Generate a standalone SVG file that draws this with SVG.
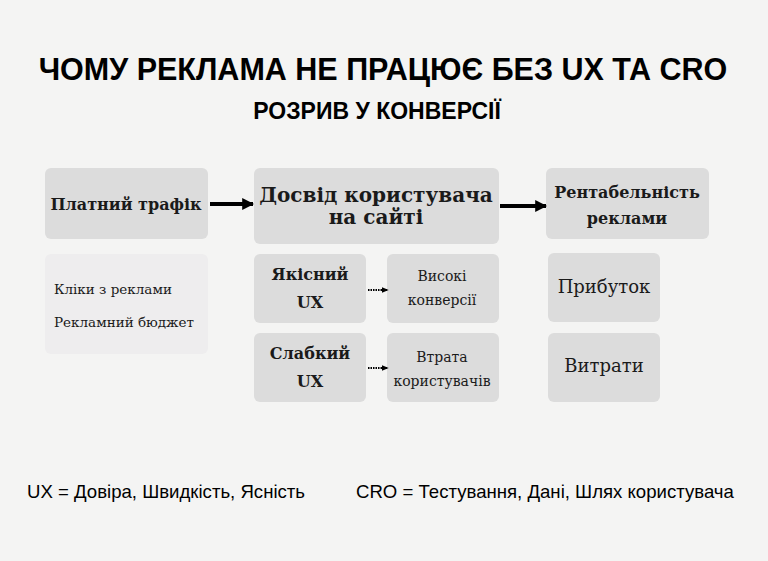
<svg xmlns="http://www.w3.org/2000/svg" width="768" height="561" viewBox="0 0 768 561">
<style>
.b{fill:#dcdcdc}
.s{font-family:"DejaVu Serif",serif;fill:#1a1a1a;text-anchor:middle}
.l{font-family:"DejaVu Serif",serif;fill:#1a1a1a;text-anchor:start}
.bd{font-weight:bold}
.h{font-family:"Liberation Sans",Arial,sans-serif;font-weight:bold;text-anchor:middle;fill:#000}
.f{font-family:"Liberation Sans",Arial,sans-serif;font-size:18.6px;fill:#000}
</style>
<defs>
<marker id="a" viewBox="0 0 10 10" refX="9" refY="5" markerWidth="3" markerHeight="3" orient="auto"><path d="M0,0L10,5L0,10z" fill="#000"/></marker>
<marker id="d" viewBox="0 0 10 10" refX="9" refY="5" markerWidth="3.5" markerHeight="3.5" orient="auto"><path d="M0,1L10,5L0,9z" fill="#000"/></marker>
</defs>
<rect width="768" height="561" fill="#f4f4f3"/>
<text class="h" x="383" y="80" font-size="30.5">ЧОМУ РЕКЛАМА НЕ ПРАЦЮЄ БЕЗ UX ТА CRO</text>
<text class="h" x="377" y="119" font-size="23">РОЗРИВ У КОНВЕРСІЇ</text>
<g id="traffic"><rect class="b" x="45" y="168" width="163" height="71" rx="6"/><text class="s bd" x="126" y="210" font-size="16">Платний трафік</text></g>
<g id="clicks"><rect x="45" y="254" width="163" height="100" rx="6" fill="#eeedee"/><text class="l" x="54" y="294" font-size="13.5">Кліки з реклами</text><text class="l" x="54" y="327" font-size="13.5">Рекламний бюджет</text></g>
<g id="experience"><rect class="b" x="254" y="168" width="245" height="76" rx="6"/><text class="s bd" x="376" y="202" font-size="20">Досвід користувача</text><text class="s bd" x="376" y="224" font-size="20">на сайті</text></g>
<g id="roi"><rect class="b" x="546" y="168" width="163" height="71" rx="6"/><text class="s bd" x="627" y="198" font-size="16">Рентабельність</text><text class="s bd" x="627" y="224" font-size="16">реклами</text></g>
<g id="good"><rect class="b" x="254" y="254" width="112" height="69" rx="6"/><text class="s bd" x="310" y="280" font-size="16">Якісний</text><text class="s bd" x="310" y="308" font-size="16">UX</text></g>
<g id="high"><rect class="b" x="387" y="254" width="112" height="69" rx="6"/><text class="s" x="442" y="281" font-size="14">Високі</text><text class="s" x="442" y="305" font-size="14">конверсії</text></g>
<g id="weak"><rect class="b" x="254" y="333" width="112" height="69" rx="6"/><text class="s bd" x="310" y="359" font-size="16">Слабкий</text><text class="s bd" x="310" y="387" font-size="16">UX</text></g>
<g id="loss"><rect class="b" x="387" y="333" width="112" height="69" rx="6"/><text class="s" x="442" y="362" font-size="14">Втрата</text><text class="s" x="442" y="386" font-size="14">користувачів</text></g>
<g id="profit"><rect class="b" x="548" y="253" width="112" height="69" rx="6"/><text class="s" x="604" y="293" font-size="18">Прибуток</text></g>
<g id="costs"><rect class="b" x="548" y="333" width="112" height="69" rx="6"/><text class="s" x="604" y="372" font-size="18">Витрати</text></g>
<g id="connectors" stroke="#000" fill="none">
<line x1="210" y1="204" x2="253" y2="204" stroke-width="4" marker-end="url(#a)"/>
<line x1="500" y1="206" x2="546" y2="206" stroke-width="4" marker-end="url(#a)"/>
<line x1="368" y1="290" x2="388" y2="290" stroke-width="2" stroke-dasharray="1.5 1" marker-end="url(#d)"/>
<line x1="368" y1="368" x2="388" y2="368" stroke-width="2" stroke-dasharray="1.5 1" marker-end="url(#d)"/>
</g>
<text class="f" x="27" y="498">UX = Довіра, Швидкість, Ясність</text>
<text class="f" x="356" y="498">CRO = Тестування, Дані, Шлях користувача</text>
</svg>
